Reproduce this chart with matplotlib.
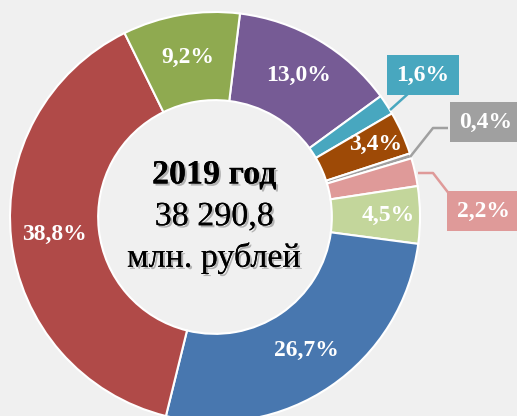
import numpy as np
import matplotlib
matplotlib.use("Agg")
import matplotlib.pyplot as plt
import matplotlib.patheffects as pe

labels = ["13,0%", "1,6%", "3,4%", "0,4%", "2,2%", "4,5%", "26,7%", "38,8%", "9,2%"]
values = [13.0, 1.6, 3.4, 0.4, 2.2, 4.5, 26.7, 38.8, 9.2]
colors = ["#765B95", "#48A7BF", "#9E4A06", "#A0A0A0", "#DF9A99",
          "#C3D69B", "#4877AF", "#B04A48", "#8FAA50"]
center_lines = ["2019 год", "38 290,8", "млн. рублей"]

W, H = 517, 416
cx, cy, R = 215, 217, 205
fig = plt.figure(figsize=(W / 100, H / 100), dpi=100)
fig.patch.set_facecolor("#F0F0F0")
ax = fig.add_axes([0, 0, 1, 1])
ax.set_facecolor("#F0F0F0")

inner = 0.57
wedges, _ = ax.pie(values, colors=colors, startangle=83, counterclock=False,
                   radius=1.0, wedgeprops=dict(width=1 - inner, edgecolor="white", linewidth=1.5))
ax.set_aspect("auto")
ax.set_xlim(-cx / R, (W - cx) / R)
ax.set_ylim(-(H - cy) / R, cy / R)
ax.axis("off")

serif = ["Liberation Serif", "DejaVu Serif"]
fs = 17
inside_r = {0: 0.80, 2: 0.86, 5: 0.845, 6: 0.79, 7: 0.787, 8: 0.79}
for i, w in enumerate(wedges):
    ang = np.deg2rad((w.theta1 + w.theta2) / 2)
    if i in inside_r:
        r = inside_r[i]
        ax.text(r * np.cos(ang), r * np.sin(ang), labels[i], ha="center", va="center",
                color="white", fontsize=fs, fontweight="bold", family=serif)

def px(x, y):
    return (x - cx) / R, (cy - y) / R

callouts = {
    1: dict(box=px(423, 75), path=[(390, 110), (410, 92)]),
    3: dict(box=px(486, 122), path=[(410, 157), (433, 128), (448, 128)]),
    4: dict(box=px(483, 211), path=[(418, 173), (433, 173), (450, 195)]),
}
for i, c in callouts.items():
    pts = np.array([px(*p) for p in c["path"]])
    ax.plot(pts[:, 0], pts[:, 1], color=colors[i], lw=1.8, solid_capstyle="butt")
    ax.text(c["box"][0], c["box"][1], labels[i], ha="center", va="center",
            color="white", fontsize=fs, fontweight="bold", family=serif,
            bbox=dict(boxstyle="square,pad=0.4", fc=colors[i], ec="none"))

shadow = [pe.withSimplePatchShadow(offset=(1.5, -1.5), shadow_rgbFace="#555555", alpha=0.4), pe.Normal()]
ys = [175, 217, 258]
for j, (t, yy) in enumerate(zip(center_lines, ys)):
    x0, y0 = px(214, yy)
    ax.text(x0, y0, t, ha="center", va="center", fontsize=24.5,
            fontweight="bold" if j == 0 else "normal", family=serif, color="black",
            path_effects=shadow)

fig.savefig("out.png", dpi=100, facecolor=fig.get_facecolor())
